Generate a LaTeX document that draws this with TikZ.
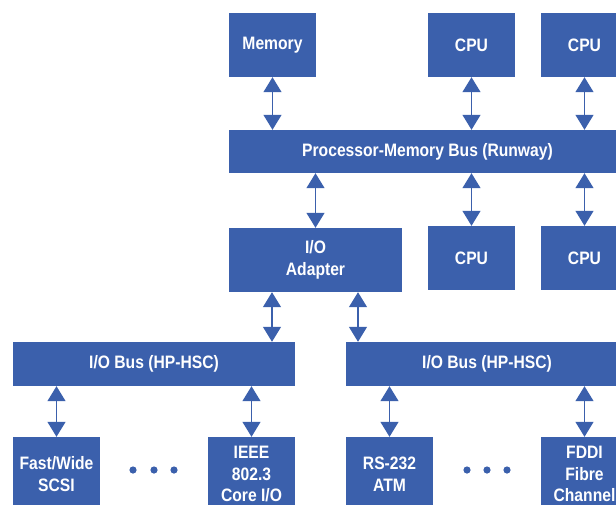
\documentclass[tikz,border=0pt]{standalone}
\usepackage{fontspec}
\setmainfont{Liberation Sans}[FakeStretch=0.87]
\usetikzlibrary{arrows.meta}
\definecolor{hpblue}{RGB}{59,96,172}
\begin{document}
\begin{tikzpicture}[x=1pt,y=-1pt,
  box/.style={fill=hpblue, draw=none, inner sep=0pt, text=white,
    font=\bfseries\fontsize{18}{21.5}\selectfont, align=center},
  conn/.style={draw=hpblue, line width=1.3pt,
    {Triangle[width=18pt,length=15pt]}-{Triangle[width=18pt,length=15pt]}},
  dotmark/.style={fill=hpblue}]
\useasboundingbox (0,0) rectangle (616,504);
\clip (0,0) rectangle (616,504);
% top row
\node[box, minimum width=87pt, minimum height=64pt] (mem)  at (272.5,45) {Memory};
\node[box, minimum width=87pt, minimum height=64pt] (cpua) at (471.5,45) {CPU};
\node[box, minimum width=87pt, minimum height=64pt] (cpub) at (584.5,45) {CPU};
% processor-memory bus
\node[box, minimum width=397pt, minimum height=43pt] (bus) at (427.5,151.5) {Processor-Memory Bus (Runway)};
% middle row
\node[box, minimum width=173pt, minimum height=64pt] (adapter) at (315.5,260) {I/O\\Adapter};
\node[box, minimum width=87pt, minimum height=64pt] (cpuc) at (471.5,258) {CPU};
\node[box, minimum width=87pt, minimum height=64pt] (cpud) at (584.5,258) {CPU};
% I/O buses
\node[box, minimum width=282pt, minimum height=44pt] (iol) at (154,364) {I/O Bus (HP-HSC)};
\node[box, minimum width=282pt, minimum height=44pt] (ior) at (487,364) {I/O Bus (HP-HSC)};
% bottom row
\node[box, minimum width=87pt, minimum height=74pt] (scsi) at (56.5,474) {Fast/Wide\\SCSI};
\node[box, minimum width=87pt, minimum height=74pt] (ieee) at (251.5,474) {IEEE\\802.3\\Core I/O};
\node[box, minimum width=87pt, minimum height=74pt] (rs)   at (389.5,474) {RS-232\\ATM};
\node[box, minimum width=87pt, minimum height=74pt] (fddi) at (584.5,474) {FDDI\\Fibre\\Channel};
% connectors
\draw[conn] (mem.south) -- (mem.south |- bus.north);
\draw[conn] (cpua.south) -- (cpua.south |- bus.north);
\draw[conn] (cpub.south) -- (cpub.south |- bus.north);
\draw[conn] (adapter.north) -- (adapter.north |- bus.south);
\draw[conn] (cpuc.north) -- (cpuc.north |- bus.south);
\draw[conn] (cpud.north) -- (cpud.north |- bus.south);
\draw[conn] ([xshift=-43.5pt]adapter.south) -- ([xshift=-43.5pt]adapter.south |- iol.north);
\draw[conn] ([xshift=42.5pt]adapter.south) -- ([xshift=42.5pt]adapter.south |- ior.north);
\draw[conn] (scsi.north |- iol.south) -- (scsi.north);
\draw[conn] (ieee.north |- iol.south) -- (ieee.north);
\draw[conn] (rs.north |- ior.south) -- (rs.north);
\draw[conn] (fddi.north |- ior.south) -- (fddi.north);
% ellipsis dots
\foreach \x in {133,154,174,467,487,507}
  \fill[dotmark] (\x,470) circle (3.6pt);
\end{tikzpicture}
\end{document}
